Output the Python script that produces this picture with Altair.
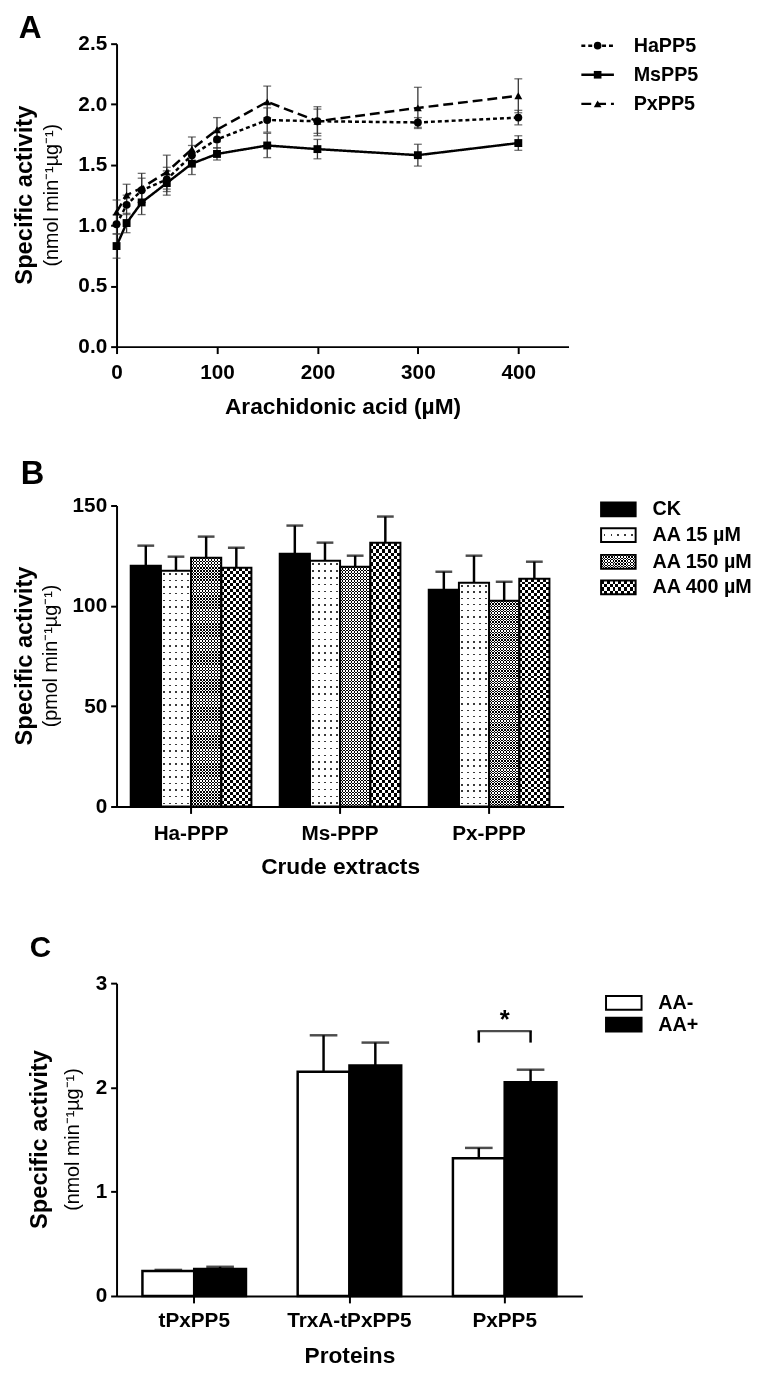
import altair as alt
import pandas as pd

FONT = "Liberation Sans"

# ---------------- Panel A data ----------------
aa_conc = [0, 10, 25, 50, 75, 100, 150, 200, 300, 400]
series_a = ["HaPP5", "MsPP5", "PxPP5"]
ha_mean = [1.01, 1.17, 1.29, 1.38, 1.58, 1.71, 1.87, 1.86, 1.85, 1.89]
ha_err = [0.08, 0.08, 0.10, 0.10, 0.08, 0.07, 0.10, 0.10, 0.04, 0.06]
ms_mean = [0.83, 1.02, 1.19, 1.35, 1.51, 1.59, 1.66, 1.63, 1.58, 1.68]
ms_err = [0.10, 0.08, 0.10, 0.10, 0.09, 0.05, 0.10, 0.08, 0.09, 0.06]
px_mean = [1.11, 1.25, 1.31, 1.44, 1.63, 1.79, 2.02, 1.86, 1.97, 2.07]
px_err = [0.10, 0.09, 0.12, 0.14, 0.10, 0.10, 0.13, 0.12, 0.17, 0.14]

# ---------------- Panel B data ----------------
extracts = ["Ha-PPP", "Ms-PPP", "Px-PPP"]
treatments = ["CK", "AA 15 µM", "AA 150 µM", "AA 400 µM"]
ck_mean = [120.0, 126.0, 108.0]
ck_err = [10.0, 14.0, 9.0]
aa15_mean = [117.5, 122.5, 111.5]
aa15_err = [7.0, 9.0, 13.5]
aa150_mean = [124.0, 119.5, 102.5]
aa150_err = [10.5, 5.5, 9.5]
aa400_mean = [119.0, 131.5, 113.5]
aa400_err = [10.0, 13.0, 8.5]

# ---------------- Panel C data ----------------
proteins = ["tPxPP5", "TrxA-tPxPP5", "PxPP5"]
conds_c = ["AA-", "AA+"]
aa_minus_mean = [0.24, 2.15, 1.32]
aa_minus_err = [0.01, 0.35, 0.10]
aa_plus_mean = [0.26, 2.21, 2.05]
aa_plus_err = [0.02, 0.22, 0.12]
sig_protein = "PxPP5"
sig_bracket = [2.43, 2.54]
sig_star_y = 2.57

# ---------------- tables ----------------
rows = []
for s, vals, errs in zip(series_a, [ha_mean, ms_mean, px_mean], [ha_err, ms_err, px_err]):
    for c, v, e in zip(aa_conc, vals, errs):
        rows.append({"conc": c, "series": s, "v": v, "e": e})
dfa = pd.DataFrame(rows)

rows = []
for t, vals, errs in zip(treatments, [ck_mean, aa15_mean, aa150_mean, aa400_mean],
                         [ck_err, aa15_err, aa150_err, aa400_err]):
    for ex, v, e in zip(extracts, vals, errs):
        rows.append({"extract": ex, "treat": t, "v": v, "e": e})
dfb = pd.DataFrame(rows)

rows = []
for cnd, vals, errs in zip(conds_c, [aa_minus_mean, aa_plus_mean], [aa_minus_err, aa_plus_err]):
    for p, v, e in zip(proteins, vals, errs):
        rows.append({"protein": p, "cond": cnd, "v": v, "e": e})
dfc = pd.DataFrame(rows)


# ---------------- helpers ----------------
def bands(n, start, width, on, off):
    stops = []
    for i in range(n):
        p0 = i / n
        a = (i + start) / n
        b = (i + start + width) / n
        p1 = (i + 1) / n
        stops += [(p0, off), (a, off), (a, on), (b, on), (b, off), (p1, off)]
    return [{"offset": round(o, 6), "color": c} for o, c in stops]


def grad(stops, along_x):
    return {"gradient": "linear", "x1": 0, "y1": 0,
            "x2": 1 if along_x else 0, "y2": 0 if along_x else 1, "stops": stops}


def label(text, x, y, size, weight="bold", angle=0, align="center", baseline="middle"):
    return alt.Chart(pd.DataFrame({"t": [text]})).mark_text(
        font=FONT, fontSize=size, fontWeight=weight, angle=angle, align=align,
        baseline=baseline, color="black").encode(x=alt.value(x), y=alt.value(y), text="t:N")


def one():
    return alt.Chart(pd.DataFrame({"k": [0]}))


def band_width(width, n, p_inner, p_outer):
    step = width / (n - p_inner + 2 * p_outer)
    return step * (1 - p_inner)


DOT = "#3a3a3a"
# pattern fills: (base, top, blend)
bar_patterns = {
    "AA 15 µM": (grad(bands(5, 0.375, 0.25, DOT, "white"), True),
                 grad(bands(36, 0.4, 0.22, DOT, "white"), False), "lighten"),
    "AA 150 µM": (grad(bands(10, 0, 0.5, "black", "white"), True),
                  grad(bands(80, 0, 0.5, "black", "white"), False), "difference"),
    "AA 400 µM": (grad(bands(5, 0, 0.5, "black", "white"), True),
                  grad(bands(40, 0, 0.5, "black", "white"), False), "difference"),
}
swatch_patterns = {
    "AA 15 µM": (grad(bands(5, 0.375, 0.25, DOT, "white"), True),
                 grad(bands(1, 0.42, 0.16, DOT, "white"), False), "lighten"),
    "AA 150 µM": (grad(bands(12, 0, 0.5, "black", "white"), True),
                  grad(bands(5, 0, 0.5, "black", "white"), False), "difference"),
    "AA 400 µM": (grad(bands(6, 0, 0.5, "black", "white"), True),
                  grad(bands(2, 0, 0.5, "black", "white"), False), "difference"),
}

# ================= Panel A =================
WA, HA = 458, 307


def xa():
    return alt.X("conc:Q", scale=alt.Scale(domain=[0, 450], nice=False),
                 axis=alt.Axis(values=[0, 100, 200, 300, 400], title="Arachidonic acid (µM)",
                               tickSize=7, labelPadding=8, titlePadding=14, labelFlush=False))


def ya(field):
    return alt.Y(f"{field}:Q", scale=alt.Scale(domain=[0, 2.5], nice=False),
                 axis=alt.Axis(values=[0, 0.5, 1, 1.5, 2, 2.5], format=".1f", title=None,
                               tickSize=6, labelPadding=4, labelFlush=False))


dash_a = [[4, 3], [1, 0], [10, 5]]
shape_a = ["circle", "square", "triangle-up"]

err_a = alt.Chart(dfa).transform_calculate(lo="datum.v - datum.e", hi="datum.v + datum.e")
a_layers = [
    alt.Chart(dfa).mark_line(color="black", strokeWidth=2.5).encode(
        x=xa(), y=ya("v"),
        strokeDash=alt.StrokeDash("series:N", scale=alt.Scale(domain=series_a, range=dash_a), legend=None)),
    err_a.mark_rule(color="#333", strokeWidth=1.3).encode(x=xa(), y=ya("lo"), y2="hi:Q"),
    err_a.mark_tick(orient="horizontal", size=8, thickness=1.3, color="#333").encode(x=xa(), y=ya("lo")),
    err_a.mark_tick(orient="horizontal", size=8, thickness=1.3, color="#333").encode(x=xa(), y=ya("hi")),
    alt.Chart(dfa).mark_point(filled=True, color="black", size=64, opacity=1).encode(
        x=xa(), y=ya("v"),
        shape=alt.Shape("series:N", scale=alt.Scale(domain=series_a, range=shape_a), legend=None)),
]
for i, s in enumerate(series_a):
    yy = 2 + 29.5 * i
    a_layers.append(one().mark_rule(color="black", strokeWidth=2.5, strokeDash=dash_a[i]).encode(
        x=alt.value(471), x2=alt.value(504), y=alt.value(yy)))
    a_layers.append(one().mark_point(filled=True, color="black", size=60, opacity=1, shape=shape_a[i]).encode(
        x=alt.value(487.5), y=alt.value(yy)))
    a_layers.append(label(s, 524, yy, 20, align="left"))
a_layers += [
    label("A", -99, -31, 32, align="left", baseline="top"),
    label("Specific activity", -92.5, HA / 2, 24, angle=270),
    label("(nmol min⁻¹µg⁻¹)", -65, HA / 2, 20, weight="normal", angle=270),
]
panel_a = alt.layer(*a_layers).properties(width=WA, height=HA)

# ================= Panel B =================
WB, HB = 453, 305
PI_B, PO_B = 0.19, 0.095
xb = alt.X("extract:N",
           scale=alt.Scale(type="band", domain=extracts, paddingInner=PI_B, paddingOuter=PO_B),
           axis=alt.Axis(title="Crude extracts", labelAngle=0, tickSize=7, labelPadding=9, titlePadding=13))
xob = alt.XOffset("treat:N", scale=alt.Scale(type="band", domain=treatments, paddingInner=0, paddingOuter=0,
                                             range=[0, band_width(WB, 3, PI_B, PO_B)]))


def yb(field):
    return alt.Y(f"{field}:Q", scale=alt.Scale(domain=[0, 150], nice=False),
                 axis=alt.Axis(values=[0, 50, 100, 150], title=None, tickSize=6, labelPadding=4,
                               labelFlush=False))


err_b = alt.Chart(dfb).transform_calculate(hi="datum.v + datum.e")
b_layers = [
    err_b.mark_rule(color="black", strokeWidth=2.5).encode(x=xb, xOffset=xob, y=yb("v"), y2="hi:Q"),
    err_b.mark_tick(orient="horizontal", size=17, thickness=2.5, color="black").encode(
        x=xb, xOffset=xob, y=yb("hi")),
]
for t in treatments:
    src = alt.Chart(dfb).transform_filter(alt.datum.treat == t)
    if t in bar_patterns:
        base, top, blend = bar_patterns[t]
        b_layers.append(src.mark_bar(fill=base).encode(x=xb, xOffset=xob, y=yb("v")))
        b_layers.append(src.mark_bar(fill=top, blend=blend).encode(x=xb, xOffset=xob, y=yb("v")))
    else:
        b_layers.append(src.mark_bar(fill="black").encode(x=xb, xOffset=xob, y=yb("v")))
b_layers.append(alt.Chart(dfb).mark_bar(fillOpacity=0, stroke="black", strokeWidth=2).encode(
    x=xb, xOffset=xob, y=yb("v")))

legend_b_rows = [4, 30, 57, 83]
for t, yy in zip(treatments, legend_b_rows):
    enc = dict(x=alt.value(491), x2=alt.value(526), y=alt.value(yy - 7), y2=alt.value(yy + 7))
    if t in swatch_patterns:
        base, top, blend = swatch_patterns[t]
        b_layers.append(one().mark_rect(fill=base).encode(**enc))
        b_layers.append(one().mark_rect(fill=top, blend=blend).encode(**enc))
    else:
        b_layers.append(one().mark_rect(fill="black").encode(**enc))
    b_layers.append(one().mark_rect(fillOpacity=0, stroke="black", strokeWidth=2).encode(**enc))
    b_layers.append(label(t, 543, yy, 20, align="left"))
b_layers += [
    label("B", -97, -48, 33, align="left", baseline="top"),
    label("Specific activity", -93, HB / 2, 24, angle=270),
    label("(pmol min⁻¹µg⁻¹)", -66, HB / 2, 20, weight="normal", angle=270),
]
panel_b = alt.layer(*b_layers).properties(width=WB, height=HB).resolve_scale(xOffset="independent")

# ================= Panel C =================
WC, HC = 472, 317
PI_C, PO_C = 0.333, 0.1667
xc = alt.X("protein:N",
           scale=alt.Scale(type="band", domain=proteins, paddingInner=PI_C, paddingOuter=PO_C),
           axis=alt.Axis(title="Proteins", labelAngle=0, tickSize=7, labelPadding=7, titlePadding=14))
BW_C = band_width(WC, 3, PI_C, PO_C)
xoc = alt.XOffset("cond:N", scale=alt.Scale(type="band", domain=conds_c, paddingInner=0, paddingOuter=0,
                                            range=[0, BW_C]))


def yc(field):
    return alt.Y(f"{field}:Q", scale=alt.Scale(domain=[0, 3], nice=False),
                 axis=alt.Axis(values=[0, 1, 2, 3], format="d", title=None, tickSize=6, labelPadding=4,
                               labelFlush=False))


err_c = alt.Chart(dfc).transform_calculate(hi="datum.v + datum.e")
dfs = pd.DataFrame({"protein": [sig_protein] * 2, "cond": conds_c,
                    "lo": [sig_bracket[0]] * 2, "hi": [sig_bracket[1]] * 2})
c_layers = [
    err_c.mark_rule(color="black", strokeWidth=2.5).encode(x=xc, xOffset=xoc, y=yc("v"), y2="hi:Q"),
    err_c.mark_tick(orient="horizontal", size=28, thickness=2.5, color="black").encode(
        x=xc, xOffset=xoc, y=yc("hi")),
    alt.Chart(dfc).mark_bar(stroke="black", strokeWidth=2.5).encode(
        x=xc, xOffset=xoc, y=yc("v"),
        fill=alt.Fill("cond:N", scale=alt.Scale(domain=conds_c, range=["white", "black"]), legend=None)),
    alt.Chart(dfs).mark_rule(color="black", strokeWidth=2.5).encode(
        x=xc, xOffset=xoc, y=yc("lo"), y2="hi:Q"),
    alt.Chart(dfs.iloc[:1]).mark_tick(orient="horizontal", size=BW_C / 2 + 2.5, thickness=2.5,
                                      color="black").encode(x=xc, y=yc("hi")),
    alt.Chart(pd.DataFrame({"protein": [sig_protein], "y": [sig_star_y], "t": ["*"]})).mark_text(
        font=FONT, fontSize=26, fontWeight="bold", baseline="alphabetic", color="black").encode(
        x=xc, y=yc("y"), text="t:N"),
]
legend_c_rows = [20, 42]
for cnd, yy, col in zip(conds_c, legend_c_rows, ["white", "black"]):
    c_layers.append(one().mark_rect(fill=col, stroke="black", strokeWidth=2).encode(
        x=alt.value(496), x2=alt.value(532), y=alt.value(yy - 7), y2=alt.value(yy + 7)))
    c_layers.append(label(cnd, 549, yy, 20, align="left"))
c_layers += [
    label("C", -88, -51, 30, align="left", baseline="top"),
    label("Specific activity", -77.5, HC / 2, 24, angle=270),
    label("(nmol min⁻¹µg⁻¹)", -44, HC / 2, 20, weight="normal", angle=270),
]
panel_c = alt.layer(*c_layers).properties(width=WC, height=HC).resolve_scale(xOffset="independent")

chart = alt.vconcat(
    alt.vconcat(panel_a, panel_b, spacing=40).resolve_scale(xOffset="independent"),
    panel_c, spacing=55).resolve_scale(xOffset="independent").properties(
    padding={"left": 5, "top": -5, "right": 5, "bottom": 5}).configure(
    font=FONT).configure_axis(
    domainColor="black", domainWidth=2, tickColor="black", tickWidth=2,
    labelFont=FONT, labelFontSize=21, labelFontWeight="bold", labelColor="black",
    titleFont=FONT, titleFontSize=23, titleFontWeight="bold", titleColor="black",
    grid=False, labelOverlap=False).configure_view(stroke=None)

chart.save("out.html", embed_options={"renderer": "svg", "actions": False})
